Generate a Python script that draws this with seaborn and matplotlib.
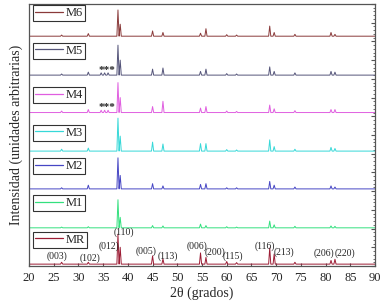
import numpy as np
import pandas as pd
import seaborn as sns
import matplotlib.pyplot as plt
from matplotlib.legend import Legend
from matplotlib.lines import Line2D
from matplotlib.ticker import MultipleLocator
import matplotlib.transforms as mtransforms

sns.set_style("ticks")
plt.rcParams['font.family'] = ['Liberation Serif', 'DejaVu Serif']

# XRD peaks (2theta) and peak heights per sample (arbitrary units)
peak_pos = [26.6, 32.0, 34.6, 35.3, 36.0, 38.0, 38.45, 45.0, 47.1, 54.7, 55.8,
            60.0, 62.0, 68.7, 69.6, 73.8, 81.1, 81.9]
samples = ['MR', 'M1', 'M2', 'M3', 'M4', 'M5', 'M6']
h_mr = [0.05, 0.05, 0, 0, 0, 0.80, 0.45, 0.22, 0.14, 0.30, 0.18, 0.07, 0.04, 0.43, 0.27, 0.05, 0.10, 0.13]
h_m1 = [0.02, 0.03, 0, 0, 0, 0.75, 0.28, 0.06, 0.05, 0.10, 0.06, 0.03, 0.02, 0.18, 0.08, 0.04, 0.05, 0.04]
h_m2 = [0.03, 0.10, 0, 0, 0, 0.83, 0.36, 0.14, 0.08, 0.12, 0.14, 0.03, 0.03, 0.20, 0.10, 0.05, 0.08, 0.05]
h_m3 = [0.05, 0.08, 0, 0, 0, 0.88, 0.40, 0.24, 0.19, 0.20, 0.20, 0.04, 0.03, 0.30, 0.12, 0.05, 0.10, 0.07]
h_m4 = [0.04, 0.08, 0.06, 0.06, 0.06, 0.80, 0.40, 0.16, 0.30, 0.12, 0.16, 0.04, 0.03, 0.20, 0.10, 0.05, 0.08, 0.08]
h_m5 = [0.03, 0.08, 0.06, 0.06, 0.06, 0.80, 0.40, 0.16, 0.19, 0.10, 0.16, 0.04, 0.03, 0.22, 0.10, 0.06, 0.10, 0.08]
h_m6 = [0.03, 0.07, 0, 0, 0, 0.70, 0.32, 0.14, 0.10, 0.08, 0.20, 0.04, 0.03, 0.27, 0.10, 0.05, 0.10, 0.05]
heights = [h_mr, h_m1, h_m2, h_m3, h_m4, h_m5, h_m6]

hkl_labels = ['(003)', '(102)', '(012)', '(110)', '(005)', '(113)', '(006)',
              '(200)', '(115)', '(116)', '(213)', '(206)', '(220)']

# layout
offsets = [0.05, 1.02, 2.06, 3.07, 4.10, 5.10, 6.14]
legend_top = [0.91, 1.89, 2.88, 3.77, 4.78, 5.96, 6.97]
colors = ['#9c1c34', '#33e07e', '#4646c4', '#36d8d8', '#e05ee0', '#55557a', '#8a3a3a']
hkl_x = [25.7, 32.3, 36.2, 39.2, 43.7, 48.1, 53.9, 57.6, 61.3, 67.7, 71.6, 79.7, 83.9]
hkl_y = [0.27, 0.21, 0.52, 0.89, 0.40, 0.27, 0.52, 0.38, 0.25, 0.54, 0.36, 0.34, 0.34]
w = 0.22

fig = plt.figure(figsize=(3.84, 3.07), dpi=100)
ax = fig.add_axes([29 / 384, 1 - 266 / 307, 346 / 384, 262 / 307])

blend = mtransforms.blended_transform_factory(ax.transAxes, ax.transData)
for i, s in enumerate(samples):
    xs, ys = [20.0], [0.0]
    for p, h in zip(peak_pos, heights[i]):
        if h > 0:
            xs += [p - w, p, p + w]
            ys += [0.0, h, 0.0]
    xs.append(90.0)
    ys.append(0.0)
    df = pd.DataFrame({'angle': xs, 'intensity': np.array(ys) + offsets[i]})
    sns.lineplot(data=df, x='angle', y='intensity', color=colors[i], lw=0.7,
                 errorbar=None, sort=False, ax=ax)
    h = Line2D([], [], color=colors[i], lw=0.9)
    leg = Legend(ax, [h], [s], loc='upper left', bbox_to_anchor=(0.012, legend_top[i]),
                 bbox_transform=blend, frameon=True, fancybox=False, fontsize=9,
                 borderpad=0.15, handlelength=2.2, handletextpad=0.25, borderaxespad=0)
    leg.get_frame().set_edgecolor('black')
    leg.get_frame().set_linewidth(0.8)
    ax.add_artist(leg)

for lab, x, y in zip(hkl_labels, hkl_x, hkl_y):
    ax.text(x, y, lab, fontsize=7, ha='center', va='center')

ax.text(35.8, offsets[5] + 0.06, '***', fontsize=8, fontweight='bold', ha='center', va='baseline')
ax.text(35.8, offsets[4] + 0.06, '***', fontsize=8, fontweight='bold', ha='center', va='baseline')

ax.set_xlim(20, 90)
ax.set_ylim(0, 7)
ax.xaxis.set_major_locator(MultipleLocator(5))
ax.tick_params(axis='x', direction='in', length=2, labelsize=9, pad=4, color='#555555')
ax.yaxis.set_ticks_position('right')
ax.yaxis.set_major_locator(MultipleLocator(0.5))
ax.yaxis.set_minor_locator(MultipleLocator(0.1))
ax.tick_params(axis='y', which='both', direction='in', labelright=False, color='#555555')
ax.tick_params(axis='y', which='major', length=3)
ax.tick_params(axis='y', which='minor', length=1.8)
for sp in ax.spines.values():
    sp.set_color('#555555')
    sp.set_linewidth(0.9)

ax.set_xlabel('2θ (grados)', fontsize=10, labelpad=2)
ax.set_ylabel('Intensidad (unidades arbitrarias)', fontsize=10, labelpad=4)
ax.yaxis.set_label_position('left')

fig.savefig('out.png', dpi=100)
